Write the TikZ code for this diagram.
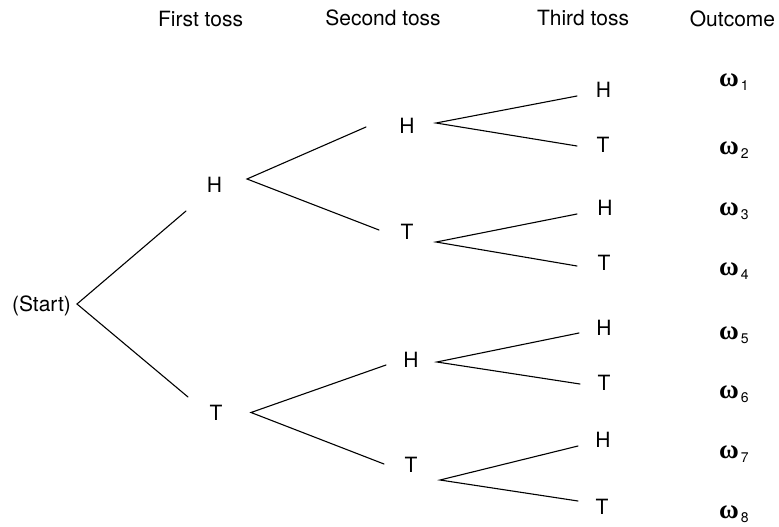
\documentclass[tikz,border=0pt]{standalone}
\usepackage{fontspec}
\setmainfont{TeX Gyre Heros}
\newfontfamily\omgfont{Liberation Serif}
\begin{document}
\begin{tikzpicture}[x=1pt,y=-1pt,
  lbl/.style={anchor=base,inner sep=0pt,font=\fontsize{21}{25}\selectfont},
  omg/.style={anchor=base west,inner sep=0pt},
  edge/.style={line width=1.1pt,line cap=round}]
\useasboundingbox (0,0) rectangle (779,527);
% headers
\node[lbl] (h1) at (200.5,27) {First toss};
\node[lbl] (h2) at (383,26) {Second toss};
\node[lbl] (h3) at (583,26) {Third toss};
\node[lbl] (h4) at (732.5,27) {Outcome};
% nodes
\node[lbl] (start) at (41.5,311) {(Start)};
\node[lbl] (a) at (214.5,192) {H};
\node[lbl] (b) at (216,420) {T};
\node[lbl] (aa) at (407,133) {H};
\node[lbl] (ab) at (407,239) {T};
\node[lbl] (ba) at (411,367) {H};
\node[lbl] (bb) at (411,472) {T};
\node[lbl] (aaa) at (603.5,97) {H};
\node[lbl] (aab) at (603,152) {T};
\node[lbl] (aba) at (605,215) {H};
\node[lbl] (abb) at (604,270) {T};
\node[lbl] (baa) at (604,335) {H};
\node[lbl] (bab) at (604,390) {T};
\node[lbl] (bba) at (603,447) {H};
\node[lbl] (bbb) at (602,514) {T};
% outcomes
\foreach \i/\yy in {1/87,2/154,3/215,4/275,5/339,6/398,7/458,8/518}{
  \node[omg] (w\i) at (719,\yy) {{\omgfont\bfseries\fontsize{27}{30}\selectfont ω}\kern2pt\raisebox{-4pt}{\fontsize{14}{16}\selectfont \i}};
}
% branch points
\coordinate (sv) at (77,304);
\coordinate (s1) at (186,211);
\coordinate (s2) at (188,397);
\coordinate (av) at (247,179);
\coordinate (a1) at (366,127);
\coordinate (a2) at (379,230);
\coordinate (bv) at (251,412.5);
\coordinate (b1) at (386,365);
\coordinate (b2) at (384,464);
\coordinate (aav) at (436,123);
\coordinate (aa1) at (577,96);
\coordinate (aa2) at (577,146);
\coordinate (abv) at (436,242);
\coordinate (ab1) at (577,214);
\coordinate (ab2) at (577,266);
\coordinate (bav) at (437,362);
\coordinate (ba1) at (579,333);
\coordinate (ba2) at (580,384);
\coordinate (bbv) at (440,480);
\coordinate (bb1) at (578,446);
\coordinate (bb2) at (578,501);
% connectors
\draw[edge] (s1) -- (sv) -- (s2);
\draw[edge] (a1) -- (av) -- (a2);
\draw[edge] (b1) -- (bv) -- (b2);
\draw[edge] (aa1) -- (aav) -- (aa2);
\draw[edge] (ab1) -- (abv) -- (ab2);
\draw[edge] (ba1) -- (bav) -- (ba2);
\draw[edge] (bb1) -- (bbv) -- (bb2);
\end{tikzpicture}
\end{document}
